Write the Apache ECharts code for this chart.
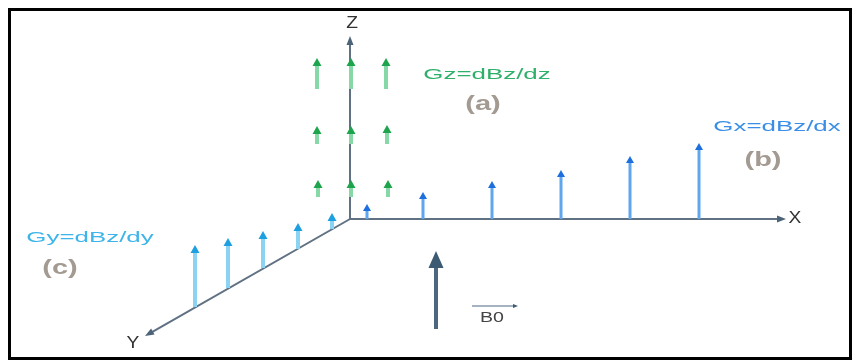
<!DOCTYPE html>
<html>
<head>
<meta charset="utf-8">
<script src="https://cdn.jsdelivr.net/npm/echarts@6/dist/echarts.min.js"></script>
<style>html,body{margin:0;padding:0;background:#fff;}#c{width:854px;height:363px;}</style>
</head>
<body>
<div id="c"></div>
<script>
// Diagram coordinates (x to the right, y downward)
const axisLines = [ // [x0, y0, x1, y1]
  [350, 219, 350, 36],   // Z
  [350, 219, 786, 219],  // X
  [350, 219, 145, 336]   // Y
];
const axisNames = ['Z', 'X', 'Y'];
const axisNamePos = [[352, 24], [795, 219], [133, 344]];

// Gz arrows: [x, yBase, yTip]
const gzArrows = [
  [317, 89, 58], [351, 89, 58], [386, 89, 58],
  [317, 144, 126], [351, 144, 126], [387, 144, 125],
  [318, 197, 180], [351, 197, 180], [388, 197, 180]
];
// Gx arrows along X axis
const gxX = [367, 423, 492, 561, 630, 699];
const gxTip = [204, 192, 181, 170, 156, 143];
const gxBase = 219;
// Gy arrows along Y axis
const gyX = [195, 228, 263, 298, 332];
const gyBase = [307, 288, 268, 249, 229];
const gyTip = [245, 238, 231, 223, 213];
// B0 arrow
const b0Arrow = [436, 329, 251];
const b0Bar = [472, 306, 518, 306];

const labels = [ // [x, y, text]
  [487, 75, 'Gz=dBz/dz'],
  [777, 127, 'Gx=dBz/dx'],
  [90, 238, 'Gy=dBz/dy']
];
const labelColors = ['#2eb06a', '#3b8ee8', '#3db5ea'];
const tags = [[483, 104, '(a)'], [763, 160, '(b)'], [60, 268, '(c)']];
const b0Label = [492, 318, 'B0'];

function arrow(api, p0, p1, o) {
  const a = api.coord(p0), b = api.coord(p1);
  const dx = b[0] - a[0], dy = b[1] - a[1];
  const L = Math.sqrt(dx * dx + dy * dy) || 1;
  const ux = dx / L, uy = dy / L, nx = -uy, ny = ux;
  const hx = b[0] - ux * o.hl, hy = b[1] - uy * o.hl;
  return [
    {type: 'line', shape: {x1: a[0], y1: a[1], x2: hx + ux * 1, y2: hy + uy * 1},
     style: {stroke: o.shaft, lineWidth: o.w}},
    {type: 'polygon', shape: {points: [[b[0], b[1]], [hx + nx * o.hw, hy + ny * o.hw], [hx - nx * o.hw, hy - ny * o.hw]]},
     style: {fill: o.head}}
  ];
}

function arrowSeries(data, opts) {
  return {
    type: 'custom', coordinateSystem: 'cartesian2d', silent: true,
    data: data,
    renderItem: function (params, api) {
      const p = data[params.dataIndex];
      return {type: 'group', children: arrow(api, [p[0], p[1]], [p[2], p[3]], opts)};
    }
  };
}

function textSeries(data, styleFn) {
  return {
    type: 'custom', coordinateSystem: 'cartesian2d', silent: true,
    data: data,
    renderItem: function (params, api) {
      const d = data[params.dataIndex];
      const c = api.coord([d[0], d[1]]);
      const s = styleFn(params.dataIndex);
      return {type: 'text', x: c[0], y: c[1], scaleX: s.sx,
        style: {text: d[2], fill: s.color, font: s.font, align: 'center', verticalAlign: 'middle'}};
    }
  };
}

const gzData = gzArrows.map(a => [a[0], a[1], a[0], a[2]]);
const gxData = gxX.map((x, i) => [x, gxBase, x, gxTip[i]]);
const gyData = gyX.map((x, i) => [x, gyBase[i], x, gyTip[i]]);

const chart = echarts.init(document.getElementById('c'), null, {renderer: 'canvas'});
chart.setOption({
  animation: false,
  grid: {left: 0, right: 0, top: 0, bottom: 0},
  xAxis: {type: 'value', min: 0, max: 854, show: false},
  yAxis: {type: 'value', min: 0, max: 363, inverse: true, show: false},
  graphic: [{
    type: 'rect', shape: {x: 9.5, y: 9.5, width: 841, height: 349},
    style: {fill: 'none', stroke: '#000', lineWidth: 3}
  }],
  series: [
    arrowSeries(axisLines, {w: 2, hl: 9, hw: 3.5, shaft: '#5f7183', head: '#4d6478'}),
    arrowSeries(gzData, {w: 4, hl: 8, hw: 4.5, shaft: '#86d8a6', head: '#1ea44c'}),
    arrowSeries(gxData, {w: 3, hl: 7, hw: 4, shaft: '#5fa6ef', head: '#1c6fdd'}),
    arrowSeries(gyData, {w: 4, hl: 8, hw: 4.5, shaft: '#8ad3f2', head: '#1ea0e0'}),
    arrowSeries([[b0Arrow[0], b0Arrow[1], b0Arrow[0], b0Arrow[2]]], {w: 4, hl: 17, hw: 7.5, shaft: '#4b6880', head: '#3c5a72'}),
    arrowSeries([b0Bar], {w: 1, hl: 5, hw: 2, shaft: '#4b6880', head: '#3c5a72'}),
    textSeries(axisNames.map((n, i) => [axisNamePos[i][0], axisNamePos[i][1], n]),
      () => ({color: '#333', font: '16px "Liberation Sans", Arial, sans-serif', sx: 1.2})),
    textSeries(labels, i => ({color: labelColors[i], font: '14px "Liberation Sans", Arial, sans-serif', sx: 1.85})),
    textSeries(tags, () => ({color: '#a39a92', font: 'bold 20px "Liberation Sans", Arial, sans-serif', sx: 1.45})),
    textSeries([b0Label], () => ({color: '#444', font: '14px "Liberation Sans", Arial, sans-serif', sx: 1.4}))
  ]
});
</script>
</body>
</html>
